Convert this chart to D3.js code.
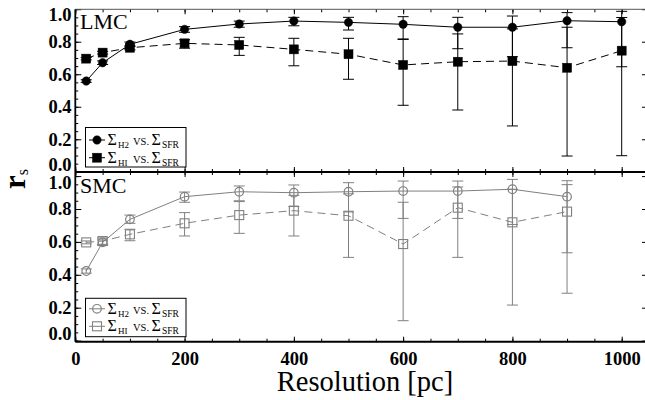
<!DOCTYPE html>
<html><head><meta charset="utf-8">
<script src="https://cdn.jsdelivr.net/npm/d3@7"></script>
<style>
body{margin:0;background:#fff;}
text{font-family:"Liberation Serif","Times New Roman",serif;}
</style></head><body>
<script>
// ---------- data ----------
const lmcRes = [20, 50, 100, 200, 300, 400, 500, 600, 700, 800, 900, 1000];
const lmcH2   = [0.558, 0.671, 0.784, 0.876, 0.909, 0.927, 0.919, 0.907, 0.889, 0.889, 0.929, 0.923];
const lmcH2Lo = [0.550, 0.660, 0.770, 0.858, 0.889, 0.898, 0.872, 0.817, 0.757, 0.708, 0.763, 0.646];
const lmcH2Hi = [0.566, 0.682, 0.798, 0.893, 0.927, 0.950, 0.950, 0.954, 0.950, 0.958, 0.979, 0.987];
const lmcHI   = [0.696, 0.733, 0.763, 0.790, 0.780, 0.753, 0.723, 0.657, 0.677, 0.681, 0.640, 0.745];
const lmcHILo = [0.688, 0.724, 0.750, 0.760, 0.716, 0.652, 0.569, 0.409, 0.380, 0.282, 0.097, 0.099];
const lmcHIHi = [0.703, 0.741, 0.775, 0.812, 0.827, 0.821, 0.821, 0.814, 0.848, 0.879, 0.889, 0.949];

const smcRes = [20, 50, 100, 200, 300, 400, 500, 600, 700, 800, 900];
const smcH2   = [0.423, 0.597, 0.737, 0.875, 0.905, 0.899, 0.905, 0.909, 0.909, 0.920, 0.875];
const smcH2Lo = [0.410, 0.580, 0.713, 0.841, 0.850, 0.815, 0.782, 0.743, 0.743, 0.706, 0.534];
const smcH2Hi = [0.436, 0.612, 0.763, 0.903, 0.940, 0.946, 0.960, 0.970, 0.970, 0.980, 0.972];
const smcHI   = [0.597, 0.605, 0.646, 0.713, 0.763, 0.790, 0.759, 0.587, 0.808, 0.719, 0.784];
const smcHILo = [0.588, 0.585, 0.607, 0.636, 0.652, 0.636, 0.506, 0.121, 0.506, 0.216, 0.288];
const smcHIHi = [0.606, 0.624, 0.677, 0.778, 0.845, 0.883, 0.892, 0.841, 0.934, 0.920, 0.948];

const xTickLabels = [0, 200, 400, 600, 800, 1000];
const yTickLabels = [0, 0.2, 0.4, 0.6, 0.8, 1.0];
const panelNames = ["LMC", "SMC"];

// ---------- layout ----------
const W = 645, H = 400;
const X0 = 75.3, XR = 646;
const svg = d3.select("body").append("svg").attr("width", W).attr("height", H);
svg.append("rect").attr("width", W).attr("height", H).attr("fill", "#fff");

const x = d3.scaleLinear().domain([0, 1000]).range([X0, 621.7]);

const panels = [
  {name: panelNames[0], y: d3.scaleLinear().domain([0, 1]).range([171.8, 9.2]), top: 9.3, bottom: 172,
   color: "#000", filled: true, res: lmcRes,
   h2: lmcH2, h2lo: lmcH2Lo, h2hi: lmcH2Hi, hi: lmcHI, hilo: lmcHILo, hihi: lmcHIHi,
   labelY: 29.3, legend: {y0: 127.5, y1: 167, r1: 140, r2: 157.7}, edge: [-7.3, 5.8]},
  {name: panelNames[1], y: d3.scaleLinear().domain([0, 1]).range([340.6, 176.1]), top: 172, bottom: 341.7,
   color: "#808080", filled: false, res: smcRes,
   h2: smcH2, h2lo: smcH2Lo, h2hi: smcH2Hi, hi: smcHI, hilo: smcHILo, hihi: smcHIHi,
   labelY: 192.7, legend: {y0: 298.3, y1: 336.7, r1: 308.8, r2: 326.3}, edge: [-7.5, 6.8]}
];

const fmt = d3.format(".1f");
const xMinor = d3.range(0, 1050, 50);
const yMinor = d3.range(0, 1.0001, 0.05).map(v => +v.toFixed(2));
const FONT = '"Liberation Serif","Times New Roman",serif';

panels.forEach((p, pi) => {
  const g = svg.append("g");
  const y = p.y;

  const styleAxis = sel => { sel.select(".domain").remove(); sel.selectAll("line").attr("stroke", "#000").attr("stroke-width", 1); };
  g.append("g").attr("transform", `translate(${X0},0)`)
    .call(d3.axisLeft(y).tickValues(yMinor).tickSize(-3).tickFormat("")).call(styleAxis);
  const la = g.append("g").attr("transform", `translate(${X0},0)`)
    .call(d3.axisLeft(y).tickValues(yTickLabels).tickSize(-6).tickPadding(3.8).tickFormat(fmt)).call(styleAxis);
  la.attr("font-family", FONT);
  la.selectAll("text").attr("font-family", FONT)
    .attr("font-weight", "bold").attr("font-size", 18.5).attr("fill", "#000")
    .attr("transform", d => d === 0 ? `translate(0,${p.edge[0]})` : (d === 1 ? `translate(0,${p.edge[1]})` : null));
  g.append("g").attr("transform", `translate(${XR},0)`)
    .call(d3.axisRight(y).tickValues(yTickLabels).tickSize(-4).tickFormat("")).call(styleAxis);
  g.append("g").attr("transform", `translate(0,${p.top})`)
    .call(d3.axisTop(x).tickValues(xMinor).tickSize(-3).tickFormat("")).call(styleAxis);
  g.append("g").attr("transform", `translate(0,${p.top})`)
    .call(d3.axisTop(x).tickValues(xTickLabels).tickSize(-5).tickFormat("")).call(styleAxis);
  g.append("g").attr("transform", `translate(0,${p.bottom})`)
    .call(d3.axisBottom(x).tickValues(xMinor).tickSize(-3).tickFormat("")).call(styleAxis);
  const ba = g.append("g").attr("transform", `translate(0,${p.bottom})`)
    .call(d3.axisBottom(x).tickValues(xTickLabels).tickSize(-5).tickPadding(10.5)
      .tickFormat(pi === 1 ? d3.format("d") : "")).call(styleAxis);
  ba.attr("font-family", FONT);
  ba.selectAll("text").attr("font-family", FONT)
    .attr("font-weight", "bold").attr("font-size", 18.5).attr("fill", "#000");

  // frame
  g.append("line").attr("x1", X0).attr("x2", X0).attr("y1", p.top).attr("y2", p.bottom)
    .attr("stroke", "#000").attr("stroke-width", 1.8);
  g.append("line").attr("x1", X0).attr("x2", XR).attr("y1", p.bottom).attr("y2", p.bottom)
    .attr("stroke", "#000").attr("stroke-width", 2);
  if (pi === 0) g.append("line").attr("x1", X0).attr("x2", XR).attr("y1", p.top).attr("y2", p.top)
    .attr("stroke", "#555").attr("stroke-width", 1);

  // series
  const col = p.color;
  const ptsH2 = p.res.map((r, i) => [r, p.h2[i]]);
  const ptsHI = p.res.map((r, i) => [r, p.hi[i]]);
  const line = d3.line().x(d => x(d[0])).y(d => y(d[1]));
  g.append("path").attr("d", line(ptsH2)).attr("fill", "none").attr("stroke", col).attr("stroke-width", 1);
  g.append("path").attr("d", line(ptsHI)).attr("fill", "none").attr("stroke", col).attr("stroke-width", 1)
    .attr("stroke-dasharray", "8,5");

  const errbars = (lo, hi) => {
    p.res.forEach((r, i) => {
      const cx = x(r);
      g.append("line").attr("x1", cx).attr("x2", cx).attr("y1", y(lo[i])).attr("y2", y(hi[i]))
        .attr("stroke", col).attr("stroke-width", 1);
      [lo[i], hi[i]].forEach(v => {
        g.append("line").attr("x1", cx - 5.5).attr("x2", cx + 5.5).attr("y1", y(v)).attr("y2", y(v))
          .attr("stroke", col).attr("stroke-width", 1);
      });
    });
  };
  errbars(p.h2lo, p.h2hi);
  errbars(p.hilo, p.hihi);

  const circle = (sel, cx, cy) => sel.append("circle").attr("cx", cx).attr("cy", cy)
    .attr("r", p.filled ? 4.2 : 4.3)
    .attr("fill", p.filled ? col : "none").attr("stroke", col).attr("stroke-width", p.filled ? 0.5 : 1.2);
  const square = (sel, cx, cy) => sel.append("rect").attr("x", cx - 4.5).attr("y", cy - 4.5)
    .attr("width", 9).attr("height", 9)
    .attr("fill", p.filled ? col : "none").attr("stroke", col).attr("stroke-width", p.filled ? 0.5 : 1.1);

  ptsH2.forEach(d => circle(g, x(d[0]), y(d[1])));
  ptsHI.forEach(d => square(g, x(d[0]), y(d[1])));

  g.append("text").attr("x", 80).attr("y", p.labelY).attr("font-size", 22).attr("fill", "#000").text(p.name);

  // legend
  const L = p.legend;
  g.append("rect").attr("x", 85.5).attr("y", L.y0).attr("width", 100.5).attr("height", L.y1 - L.y0)
    .attr("fill", "#fff").attr("stroke", "#000").attr("stroke-width", 1);
  [[L.r1, "H2", circle], [L.r2, "HI", square]].forEach(([ry, sub, mk]) => {
    g.append("line").attr("x1", 89).attr("x2", 105).attr("y1", ry).attr("y2", ry)
      .attr("stroke", col).attr("stroke-width", 1);
    mk(g, 97, ry);
    const t = g.append("text").attr("y", ry + 5).attr("fill", "#000");
    t.append("tspan").attr("x", 107.5).attr("font-size", 16).text("Σ");
    t.append("tspan").attr("x", 118).attr("dy", 3).attr("font-size", 9).text(sub);
    t.append("tspan").attr("x", 133).attr("dy", -3).attr("font-size", 10.5).text("VS.");
    t.append("tspan").attr("x", 151.5).attr("font-size", 16).text("Σ");
    t.append("tspan").attr("x", 162).attr("dy", 3).attr("font-size", 9.5).text("SFR");
  });
});

// axis titles
svg.append("text").attr("x", 365).attr("y", 391).attr("text-anchor", "middle")
  .attr("font-size", 28.5).attr("fill", "#000").text("Resolution [pc]");
const yt = svg.append("text").attr("transform", "translate(25,189) rotate(-90)").attr("fill", "#000");
yt.append("tspan").attr("font-size", 31).attr("font-weight", "bold").text("r");
yt.append("tspan").attr("font-size", 16).attr("dy", 3).text("s");
</script>
</body></html>
